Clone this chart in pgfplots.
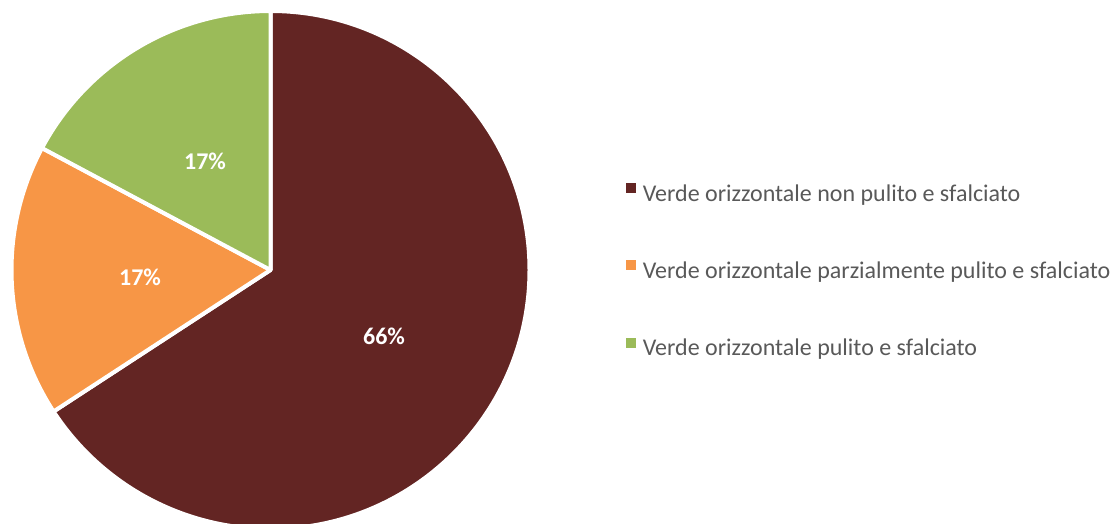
\documentclass[border=0pt]{standalone}
\usepackage{pgfplots}
\usepackage{pgfplotstable}
\pgfplotsset{compat=1.18}
\usepackage{fontspec}
\setmainfont{Carlito}
\definecolor{pieA}{HTML}{632523}
\definecolor{pieB}{HTML}{F79646}
\definecolor{pieC}{HTML}{9BBB59}
\definecolor{txtgrey}{HTML}{595959}

% shares of the pie (percent)
\pgfplotstableread{
share label
65.8 66
17.0 17
17.2 17
}\piedata
\pgfplotstablegetelem{0}{share}\of\piedata \let\sA\pgfplotsretval
\pgfplotstablegetelem{1}{share}\of\piedata \let\sB\pgfplotsretval
\pgfplotstablegetelem{2}{share}\of\piedata \let\sC\pgfplotsretval
\pgfplotstablegetelem{0}{label}\of\piedata \let\lA\pgfplotsretval
\pgfplotstablegetelem{1}{label}\of\piedata \let\lB\pgfplotsretval
\pgfplotstablegetelem{2}{label}\of\piedata \let\lC\pgfplotsretval
\pgfmathsetmacro\aA{90-3.6*\sA}
\pgfmathsetmacro\aB{\aA-3.6*\sB}
\pgfmathsetmacro\aC{\aB-3.6*\sC}
\def\R{194.25pt}

\begin{document}
\begin{tikzpicture}
\begin{axis}[
  hide axis,
  scale only axis,
  x=0.75pt, y=0.75pt,
  xmin=0, xmax=1118, ymin=0, ymax=524,
  clip=true,
  legend style={
    at={(axis cs:626,252)}, anchor=west,
    draw=none, fill=none, inner sep=0pt,
    font=\fontsize{18}{21.6}\selectfont,
    text=txtgrey,
    row sep=40pt, column sep=0pt,
    nodes={inner xsep=1.5pt, inner ysep=0pt, text height=14pt, text depth=4pt},
  },
  legend cell align=left,
]
\coordinate (SW) at (axis cs:0,0);
\coordinate (NE) at (axis cs:1118,524);
\coordinate (O) at (axis cs:270.5,254);
\fill[pieA, draw=white, line width=3pt, line join=round] (O) -- ++(90:\R) arc[start angle=90, end angle=\aA, radius=\R] -- cycle;
\fill[pieB, draw=white, line width=3pt, line join=round] (O) -- ++(\aA:\R) arc[start angle=\aA, end angle=\aB, radius=\R] -- cycle;
\fill[pieC, draw=white, line width=3pt, line join=round] (O) -- ++(\aB:\R) arc[start angle=\aB, end angle=\aC, radius=\R] -- cycle;

\addlegendimage{legend image code/.code={\fill[pieA] (0pt,1.9pt) rectangle (6.75pt,8.6pt); \path (10.5pt,5pt);}}
\addlegendentry{Verde orizzontale non pulito e sfalciato}
\addlegendimage{legend image code/.code={\fill[pieB] (0pt,1.9pt) rectangle (6.75pt,8.6pt); \path (10.5pt,5pt);}}
\addlegendentry{Verde orizzontale parzialmente pulito e sfalciato}
\addlegendimage{legend image code/.code={\fill[pieC] (0pt,1.9pt) rectangle (6.75pt,8.6pt); \path (10.5pt,5pt);}}
\addlegendentry{Verde orizzontale pulito e sfalciato}

\node[white, font=\fontsize{18}{21.6}\selectfont\bfseries] at (axis cs:384,188) {\lA\%};
\node[white, font=\fontsize{18}{21.6}\selectfont\bfseries] at (axis cs:140,247) {\lB\%};
\node[white, font=\fontsize{18}{21.6}\selectfont\bfseries] at (axis cs:205,363) {\lC\%};
\end{axis}
\pgfresetboundingbox
\useasboundingbox (SW) rectangle (NE);
\end{tikzpicture}
\end{document}
